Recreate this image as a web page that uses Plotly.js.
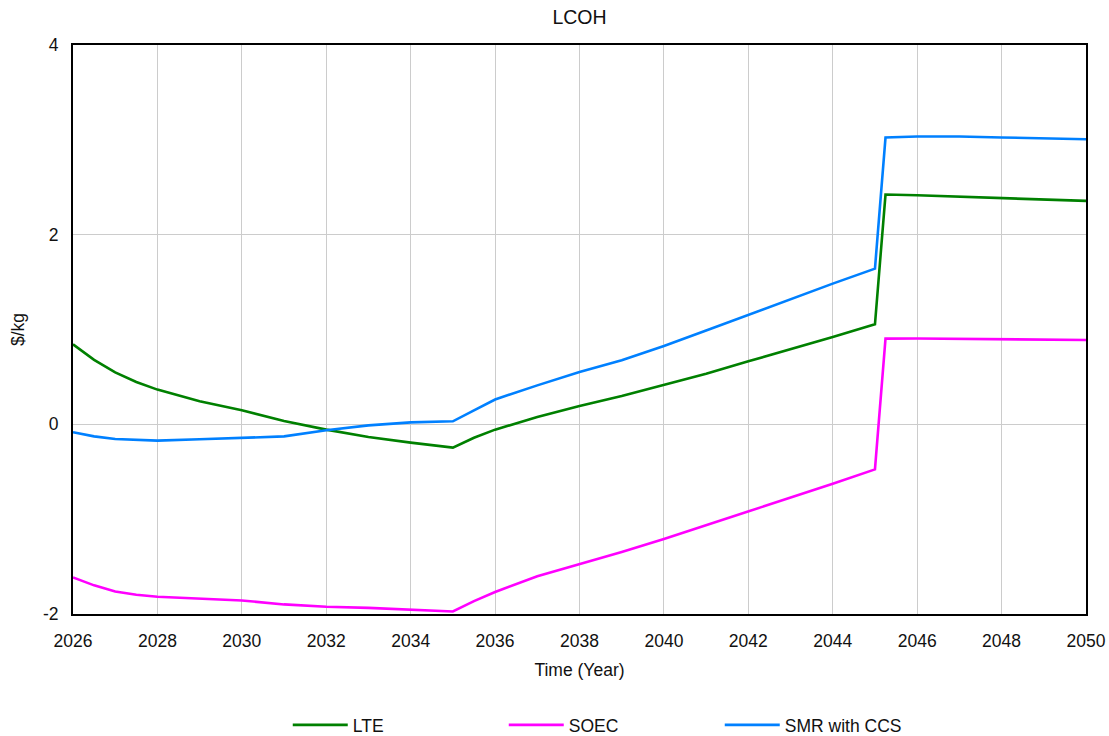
<!DOCTYPE html>
<html>
<head>
<meta charset="utf-8">
<script src="https://cdn.plot.ly/plotly-3.0.1.min.js"></script>
<style>
html,body{margin:0;padding:0;background:#fff;}
#chart{width:1109px;height:736px;}
</style>
</head>
<body>
<div id="chart"></div>
<script>
// Time axis (years); the jump after 2045 occurs within a quarter year
var years = [2026, 2026.5, 2027, 2027.5, 2028, 2029, 2030, 2031, 2032, 2033, 2034, 2035,
             2035.5, 2036, 2037, 2038, 2039, 2040, 2041, 2042, 2043, 2044, 2045,
             2045.25, 2046, 2047, 2048, 2049, 2050];

var lte = [0.844, 0.68, 0.548, 0.446, 0.366, 0.243, 0.148, 0.035, -0.056, -0.134, -0.193, -0.246,
           -0.141, -0.056, 0.077, 0.193, 0.299, 0.418, 0.534, 0.664, 0.79, 0.921, 1.055,
           2.423, 2.415, 2.40, 2.385, 2.37, 2.356];

var soec = [-1.614, -1.698, -1.762, -1.797, -1.818, -1.839, -1.857, -1.899, -1.924, -1.935, -1.952, -1.973,
            -1.864, -1.768, -1.603, -1.477, -1.347, -1.21, -1.065, -0.918, -0.774, -0.626, -0.475,
            0.904, 0.905, 0.902, 0.898, 0.895, 0.89];

var smrCcs = [-0.084, -0.127, -0.155, -0.166, -0.172, -0.158, -0.141, -0.127, -0.063, -0.011, 0.021, 0.032,
              0.148, 0.262, 0.411, 0.552, 0.675, 0.826, 0.99, 1.157, 1.318, 1.484, 1.642,
              3.024, 3.035, 3.035, 3.025, 3.018, 3.006];

var seriesNames = ["LTE", "SOEC", "SMR with CCS"];
var yTickVals = [-2, 0, 2, 4];

var FONT = "Liberation Sans, Arial, sans-serif";

var traces = [
  {x: years, y: lte, name: seriesNames[0], type: "scatter", mode: "lines",
   line: {color: "#008000", width: 2.6}},
  {x: years, y: soec, name: seriesNames[1], type: "scatter", mode: "lines",
   line: {color: "#FF00FF", width: 2.6}},
  {x: years, y: smrCcs, name: seriesNames[2], type: "scatter", mode: "lines",
   line: {color: "#0080FF", width: 2.6}}
];

var layout = {
  width: 1109, height: 736,
  margin: {l: 73, r: 23, t: 45, b: 122},
  paper_bgcolor: "#fff", plot_bgcolor: "#fff",
  font: {family: FONT, size: 17, color: "#111"},
  title: {text: "LCOH", x: 0.5, xref: "paper", xanchor: "center",
          y: 0.977, yref: "container", yanchor: "middle",
          font: {family: FONT, size: 19.5, color: "#111"}},
  xaxis: {
    range: [2026, 2050], dtick: 2, tick0: 2026,
    showgrid: true, gridcolor: "#cccccc", gridwidth: 1,
    zeroline: false, showline: true, linecolor: "#000", linewidth: 2, mirror: true,
    ticks: "", ticklabelstandoff: 10,
    tickfont: {family: FONT, size: 17.5, color: "#111"},
    title: {text: "Time (Year)", standoff: 14, font: {family: FONT, size: 17.5, color: "#111"}}
  },
  yaxis: {
    range: [-2, 4], tickvals: yTickVals, ticktext: yTickVals.map(String),
    showgrid: true, gridcolor: "#cccccc", gridwidth: 1,
    zeroline: false, showline: true, linecolor: "#000", linewidth: 2, mirror: true,
    ticks: "", ticklabelstandoff: 9,
    tickfont: {family: FONT, size: 17.5, color: "#111"},
    title: {text: "$/kg", standoff: 14, font: {family: FONT, size: 17.5, color: "#111"}}
  },
  showlegend: true,
  legend: {
    orientation: "h", x: 0.212, xref: "paper", xanchor: "left",
    y: 0.015, yref: "container", yanchor: "middle",
    entrywidth: 146, entrywidthmode: "pixels", itemwidth: 55,
    font: {family: FONT, size: 17.5, color: "#111"},
    bgcolor: "rgba(0,0,0,0)"
  }
};

Plotly.newPlot("chart", traces, layout, {displayModeBar: false, staticPlot: true});
</script>
</body>
</html>
